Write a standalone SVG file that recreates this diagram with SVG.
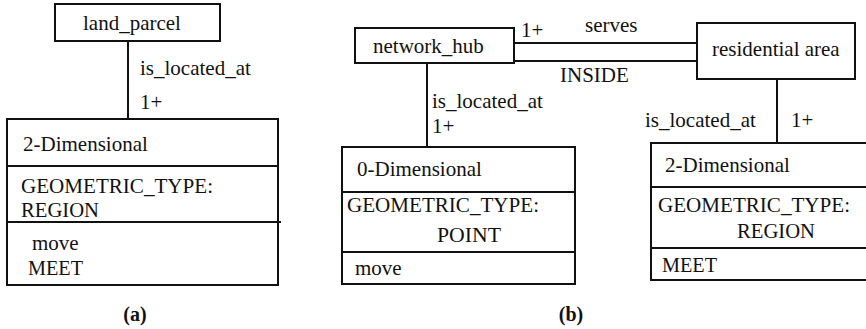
<svg xmlns="http://www.w3.org/2000/svg" width="866" height="329" viewBox="0 0 866 329">
<style>
  .box{fill:#fff;stroke:#111;stroke-width:2}
  .ln{stroke:#111;stroke-width:2;fill:none}
  text{font-family:"Liberation Serif","Times New Roman",serif;font-size:21px;fill:#111}
  .cap{font-weight:bold;font-size:20px}
</style>
<rect width="866" height="329" fill="#fff"/>
<g id="connectors">
  <line class="ln" x1="128" y1="41" x2="128" y2="119"/>
  <line class="ln" x1="427" y1="63" x2="427" y2="147"/>
  <line class="ln" x1="514" y1="43" x2="697" y2="43"/>
  <line class="ln" x1="514" y1="61" x2="697" y2="61"/>
  <line class="ln" x1="777" y1="79" x2="777" y2="143"/>
  <text x="140" y="75">is_located_at</text>
  <text x="140" y="109">1+</text>
  <text x="432" y="108">is_located_at</text>
  <text x="432" y="133">1+</text>
  <text x="521" y="37">1+</text>
  <text x="585" y="32">serves</text>
  <text x="560" y="82">INSIDE</text>
  <text x="645" y="127">is_located_at</text>
  <text x="791" y="127">1+</text>
</g>
<g id="land_parcel">
  <rect class="box" x="55" y="4" width="165" height="37"/>
  <text x="83" y="30">land_parcel</text>
</g>
<g id="dim2_a">
  <rect class="box" x="7" y="119" width="271" height="166"/>
  <line class="ln" x1="7" y1="166" x2="278" y2="166"/>
  <line class="ln" x1="7" y1="222" x2="281" y2="222"/>
  <text x="23" y="151">2-Dimensional</text>
  <text x="21" y="193" textLength="192" lengthAdjust="spacingAndGlyphs">GEOMETRIC_TYPE:</text>
  <text x="21" y="217" textLength="78" lengthAdjust="spacingAndGlyphs">REGION</text>
  <text x="32" y="250">move</text>
  <text x="28" y="275" textLength="55" lengthAdjust="spacingAndGlyphs">MEET</text>
</g>
<g id="network_hub">
  <rect class="box" x="355" y="28" width="159" height="35"/>
  <text x="373" y="53">network_hub</text>
</g>
<g id="residential_area">
  <rect class="box" x="697" y="23" width="158" height="56"/>
  <text x="712" y="56">residential area</text>
</g>
<g id="dim0_b">
  <rect class="box" x="342" y="147" width="233" height="137"/>
  <line class="ln" x1="342" y1="192" x2="575" y2="192"/>
  <line class="ln" x1="342" y1="252" x2="575" y2="252"/>
  <text x="357" y="176">0-Dimensional</text>
  <text x="347" y="212" textLength="192" lengthAdjust="spacingAndGlyphs">GEOMETRIC_TYPE:</text>
  <text x="437" y="242" textLength="64" lengthAdjust="spacingAndGlyphs">POINT</text>
  <text x="355" y="275">move</text>
</g>
<g id="dim2_b">
  <rect class="box" x="651" y="143" width="225" height="137"/>
  <line class="ln" x1="651" y1="187" x2="866" y2="187"/>
  <line class="ln" x1="651" y1="248" x2="866" y2="248"/>
  <text x="665" y="172">2-Dimensional</text>
  <text x="658" y="212" textLength="192" lengthAdjust="spacingAndGlyphs">GEOMETRIC_TYPE:</text>
  <text x="737" y="238" textLength="78" lengthAdjust="spacingAndGlyphs">REGION</text>
  <text x="662" y="272" textLength="55" lengthAdjust="spacingAndGlyphs">MEET</text>
</g>
<text class="cap" x="135" y="321" text-anchor="middle">(a)</text>
<text class="cap" x="571" y="321" text-anchor="middle">(b)</text>
</svg>
